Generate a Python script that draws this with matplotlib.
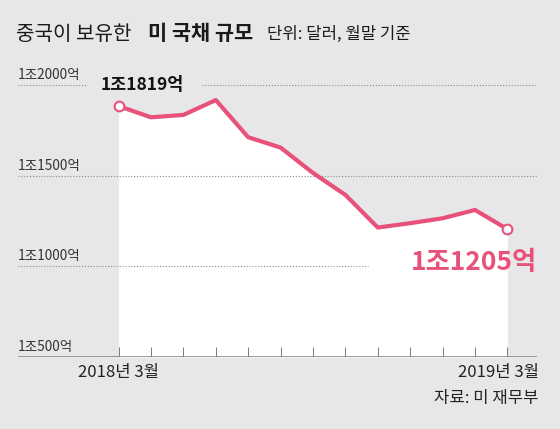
import matplotlib
matplotlib.use('Agg')
import matplotlib.pyplot as plt

plt.rcParams['font.family'] = ['Noto Sans CJK KR', 'DejaVu Sans']

# china's holdings of us treasuries, monthly (unit: 억 달러)
months = list(range(13))
holdings = [1884, 1822, 1835, 1917, 1712, 1655, 1515, 1394, 1214, 1238, 1265, 1311, 1205]
grid_values = [500, 1000, 1500, 2000]
grid_labels = ['1조500억', '1조1000억', '1조1500억', '1조2000억']
start_label = '1조1819억'
end_label = '1조1205억'
x_labels = ['2018년 3월', '2019년 3월']

BG = '#e7e7e9'
PINK = '#e8527a'
W, H = 560, 429

fig = plt.figure(figsize=(W / 100, H / 100), dpi=100, facecolor=BG)
ax = fig.add_axes([18 / W, (H - 357) / H, (537 - 18) / W, (357 - 60) / H])
ax.set_facecolor(BG)
ax.set_xlim(-3.105, 12.914)
ax.set_ylim(500, 2138)
ax.axis('off')

def xf(px):
    # pixel x -> axes fraction
    return (px - 18) / (537 - 18)

# white area under the line
ax.fill_between(months, holdings, 500, color='white', zorder=1, linewidth=0)

# dotted grid lines
dot = dict(color='#8c8c8c', linewidth=0.8, linestyle=(0, (1, 1.6)), zorder=2)
ax.axhline(1500, xmin=0, xmax=1, **dot)
ax.axhline(1000, xmin=0, xmax=xf(368), **dot)
ax.axhline(2000, xmin=0, xmax=xf(86), **dot)
ax.axhline(2000, xmin=xf(202), xmax=1, **dot)

# baseline + ticks
ax.axhline(500, xmin=0, xmax=1, color='#8a8a8a', linewidth=1.2, zorder=3)
ax.vlines(months, 500, 555, color='#7a7a7a', linewidth=0.7, zorder=3)

for v, lab in zip(grid_values, grid_labels):
    ax.text(-3.105, v + 16, lab, fontsize=9.8, color='#333333',
            ha='left', va='bottom', zorder=4)

# line
ax.plot(months, holdings, color=PINK, linewidth=3, solid_joinstyle='round',
        solid_capstyle='round', zorder=5)
ax.plot([months[0], months[-1]], [holdings[0], holdings[-1]], 'o',
        markersize=7, markerfacecolor='white', markeredgecolor=PINK,
        markeredgewidth=1.5, zorder=6)

# value annotations
fig.text(101 / W, (H - 85) / H, start_label, fontsize=12.5, fontweight='bold',
         color='#111111', ha='left', va='center')
fig.text(411 / W, (H - 262) / H, end_label, fontsize=19, fontweight='bold',
         color=PINK, ha='left', va='center')

# x labels
fig.text(118 / W, (H - 373) / H, x_labels[0], fontsize=12, color='#222222',
         ha='center', va='center')
fig.text(539 / W, (H - 373) / H, x_labels[1], fontsize=12, color='#222222',
         ha='right', va='center')
fig.text(539 / W, (H - 398) / H, '자료: 미 재무부', fontsize=12, color='#222222',
         ha='right', va='center')

# title, built piece by piece
parts = [('중국이 보유한', 14.5, 'normal', 16),
         ('미 국채 규모', 15, 'bold', 14),
         ('단위: 달러, 월말 기준', 12, 'normal', 0)]
fig.canvas.draw()
renderer = fig.canvas.get_renderer()
x_px = 16
for txt, size, weight, gap in parts:
    t = fig.text(x_px / W, (H - 34) / H, txt, fontsize=size, fontweight=weight,
                 color='#1a1a1a', ha='left', va='center')
    bb = t.get_window_extent(renderer=renderer)
    x_px = bb.x1 + gap

fig.savefig('out.png', dpi=100, facecolor=BG)
